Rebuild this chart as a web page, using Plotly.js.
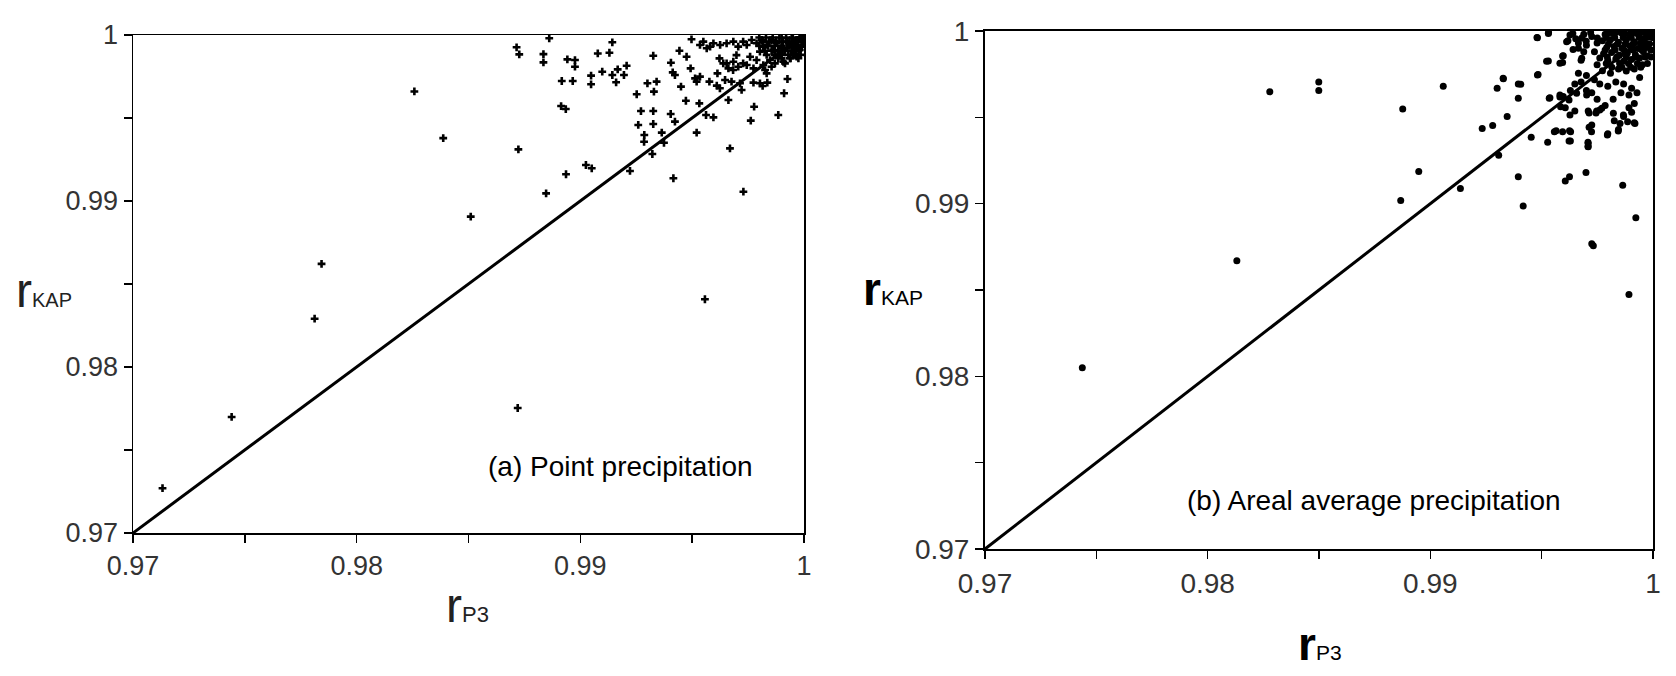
<!DOCTYPE html>
<html>
<head>
<meta charset="utf-8">
<script src="https://cdn.plot.ly/plotly-3.0.1.min.js"></script>
<style>html,body{margin:0;padding:0;background:#fff;}#chart{width:1676px;height:676px;}</style>
</head>
<body>
<div id="chart"></div>
<script>
// ---- Data ----
const tickVals = [0.97, 0.975, 0.98, 0.985, 0.99, 0.995, 1];
const tickText = ['0.97', '', '0.98', '', '0.99', '', '1'];
const diagLine = [0.97, 1];

// (a) Point precipitation: r_P3 (x) vs r_KAP (y)
const pointP3 = [
0.97132,0.97441,0.97812,0.97843,0.98258,0.98387,0.98510,0.98720,0.99557,
0.98723,0.98847,0.98936,0.99025,0.99051,0.99222,0.99416,0.99729,0.99669,0.99762,0.99777,0.99885,0.99911,0.99926,
0.98861,0.98715,0.98727,0.98835,0.98835,0.98942,0.98976,0.98976,0.99078,0.99130,0.99143,0.98917,0.98966,0.99048,
0.99048,0.99098,0.99143,0.99167,0.99160,0.99207,0.99195,0.98914,0.98935,0.99252,0.99300,0.99341,0.99329,0.99271,
0.99326,0.99259,0.99326,0.99286,0.99285,0.99364,0.99374,0.99322,0.99404,0.99423,0.99326,0.99405,0.99413,0.99423,
0.99450,0.99443,0.99475,0.99497,0.99472,0.99493,0.99513,0.99520,0.99535,0.99532,0.99520,0.99562,0.99595,0.99577,
0.99613,0.99622,0.99610,0.99624,0.99647,0.99654,0.99662,0.99676,0.99683,0.99698,0.99714,0.99721,0.99728,0.99774,
0.99803,0.99815,0.99836,0.99826,0.99908,
0.99535,0.99565,0.99595,0.99625,0.99654,0.99684,0.99706,0.99728,0.99744,0.99766,0.99788,0.99811,0.99833,0.99855,
0.99878,0.99900,0.99923,0.99945,0.99967,0.99985,0.99803,0.99833,0.99863,0.99893,0.99923,0.99952,0.99975,0.99848,
0.99870,0.99818,0.99788,0.99759,0.99684,0.99662,0.99639,0.99580,0.99550,0.99818,0.99900,0.99930,0.99960,0.99990,
0.99744,0.99706,0.99774,0.99952,0.99981,0.99967,0.99937,0.99915,0.99885,0.99855,0.99833,0.99990,0.99960,
0.99800,0.99830,0.99860,0.99890,0.99920,0.99950,0.99980,
0.99815,0.99845,0.99875,0.99905,0.99935,0.99965,0.99995,
0.99800,0.99840,0.99870,0.99900,0.99935,0.99965,0.99990,
0.99825,0.99855,0.99885,0.99915,0.99945,0.99975,
0.99870,0.99900,0.99930,0.99960,0.99985,
0.99900,0.99940,0.99975
];
const pointKAP = [
0.97270,0.97699,0.98291,0.98621,0.99660,0.99379,0.98906,0.97753,0.98408,
0.99311,0.99046,0.99161,0.99217,0.99197,0.99181,0.99137,0.99056,0.99317,0.99484,0.99568,0.99518,0.99649,0.99735,
0.99980,0.99926,0.99883,0.99885,0.99835,0.99853,0.99849,0.99809,0.99889,0.99893,0.99956,0.99723,0.99723,0.99755,
0.99703,0.99779,0.99759,0.99793,0.99715,0.99815,0.99759,0.99572,0.99554,0.99643,0.99709,0.99719,0.99659,0.99542,
0.99542,0.99458,0.99464,0.99398,0.99357,0.99412,0.99351,0.99283,0.99524,0.99478,0.99875,0.99833,0.99775,0.99759,
0.99689,0.99905,0.99869,0.99974,0.99604,0.99799,0.99739,0.99719,0.99749,0.99588,0.99412,0.99518,0.99504,0.99719,
0.99769,0.99859,0.99695,0.99679,0.99729,0.99829,0.99608,0.99719,0.99789,0.99879,0.99709,0.99669,0.99829,0.99713,
0.99709,0.99693,0.99713,0.99789,0.99839,
0.99940,0.99920,0.99950,0.99940,0.99950,0.99960,0.99930,0.99960,0.99940,0.99970,0.99950,0.99970,0.99940,0.99970,
0.99950,0.99980,0.99960,0.99980,0.99970,0.99986,0.99900,0.99880,0.99910,0.99890,0.99920,0.99930,0.99940,0.99849,
0.99829,0.99819,0.99849,0.99869,0.99839,0.99799,0.99829,0.99930,0.99960,0.99930,0.99920,0.99950,0.99960,0.99960,
0.99819,0.99809,0.99799,0.99890,0.99910,0.99870,0.99860,0.99829,0.99860,0.99809,0.99769,0.99930,0.99920,
0.99985,0.99985,0.99985,0.99985,0.99985,0.99985,0.99985,
0.99960,0.99960,0.99960,0.99960,0.99960,0.99960,0.99960,
0.99935,0.99935,0.99935,0.99935,0.99935,0.99935,0.99935,
0.99905,0.99905,0.99905,0.99905,0.99905,0.99905,
0.99880,0.99880,0.99880,0.99880,0.99880,
0.99860,0.99860,0.99860
];

// (b) Areal average precipitation: r_P3 (x) vs r_KAP (y)
const arealP3 = [
0.97437,0.98131,0.98279,0.98499,0.98499,0.98876,0.98867,0.98948,0.99058,0.99135,0.99233,0.99280,0.99300,0.99307,
0.99328,0.99345,0.99395,0.99395,0.99395,0.99417,0.99453,0.99479,0.99484,0.99522,0.99531,0.99527,0.99534,0.99565,
0.99582,0.99594,0.99594,0.99606,0.99625,0.99629,0.99606,0.99625,0.99629,0.99649,0.99618,0.99653,0.99689,0.99699,
0.99708,0.99708,0.99725,0.99732,0.99713,0.99725,0.99713,0.99744,0.99761,0.99797,0.99826,0.99845,0.99864,0.99923,
0.99892,0.99916,0.99868,0.99892,0.99916,0.99928,0.99892,0.99856,0.99821,0.99785,0.99749,0.99725,0.99701,0.99677,
0.99665,0.99701,0.99737,0.99761,0.99797,0.99833,0.99868,0.99904,0.99940,0.99773,0.99809,0.99845,0.99880,0.99916,
0.99952,0.99976,0.99964,0.99988,
0.99785,0.99821,0.99857,0.99892,0.99928,0.99964,
0.99773,0.99809,0.99845,0.99880,0.99916,0.99952,
0.99792,0.99825,0.99861,0.99897,0.99933,0.99969,
0.99778,0.99814,0.99849,0.99885,0.99921,0.99957,
0.99797,0.99833,0.99868,0.99904,0.99940,
0.99749,0.99737,0.99725,0.99701,0.99761,0.99749,0.99689,0.99665,0.99641,0.99677,
0.99724,0.99709,0.99709,0.99795,0.99844,0.99852,0.99886,0.99919,0.99822,0.99867,0.99904,0.99627,0.99649,0.99709,
0.99747,0.99770,0.99585,0.99623,0.99597,0.99537,0.99582,0.99657,0.99702,0.99327,0.99406,0.99481,0.99530,0.99582,
0.99597,0.99680,0.99665,0.99612,0.99627,0.99481,0.99530,0.99557,0.99594,0.99630,0.99623,
0.99800,0.99830,0.99870,0.99905,0.99940,0.99975,
0.99790,0.99828,0.99866,0.99902,0.99938,0.99972,0.99995,
0.99800,0.99840,0.99875,0.99910,0.99945,0.99985,
0.99785,0.99830,0.99870,0.99910,0.99950,0.99990,
0.99795,0.99838,0.99880,0.99922,0.99965,0.99992,
0.99790,0.99850,0.99890,0.99930,0.99975,
0.99815,0.99860,0.99900,0.99945,
0.99640,0.99680,0.99720,0.99750,0.99700
];
const arealKAP = [
0.98049,0.98669,0.99648,0.99705,0.99655,0.99548,0.99018,0.99186,0.99680,0.99088,0.99435,0.99453,0.99668,0.99281,
0.99723,0.99505,0.99693,0.99610,0.99156,0.98986,0.99385,0.99963,0.99748,0.99825,0.99990,0.99356,0.99610,0.99423,
0.99618,0.99818,0.99855,0.99555,0.99423,0.99363,0.99131,0.99156,0.99655,0.99693,0.99943,0.99955,0.99880,0.99181,
0.99356,0.99331,0.98768,0.98756,0.99443,0.99455,0.99525,0.99525,0.99543,0.99405,0.99480,0.99430,0.99106,0.98918,
0.98474,0.99468,0.99505,0.99555,0.99580,0.99643,0.99630,0.99643,0.99605,0.99568,0.99605,0.99643,0.99655,0.99705,
0.99755,0.99743,0.99718,0.99693,0.99680,0.99705,0.99693,0.99668,0.99730,0.99770,0.99755,0.99780,0.99768,0.99780,
0.99805,0.99855,0.99930,0.99980,
0.99980,0.99985,0.99990,0.99980,0.99985,0.99990,
0.99943,0.99950,0.99935,0.99948,0.99938,0.99955,
0.99905,0.99910,0.99900,0.99913,0.99898,0.99905,
0.99868,0.99875,0.99860,0.99873,0.99863,0.99880,
0.99830,0.99838,0.99825,0.99835,0.99843,
0.99930,0.99880,0.99968,0.99918,0.99843,0.99805,0.99980,0.99930,0.99893,0.99830,
0.99417,0.99349,0.99330,0.99398,0.99421,0.99465,0.99475,0.99465,0.99523,0.99513,0.99529,0.99514,0.99537,0.99537,
0.99537,0.99552,0.99562,0.99600,0.99620,0.99614,0.99629,0.99639,0.99629,0.99726,0.99691,0.99745,0.99826,0.99813,
0.99857,0.99842,0.99900,0.99938,0.99977,0.99961,0.99986,0.99417,0.99417,0.99417,0.99363,
0.99990,0.99990,0.99990,0.99990,0.99990,0.99990,
0.99962,0.99962,0.99962,0.99962,0.99962,0.99962,0.99962,
0.99925,0.99925,0.99925,0.99925,0.99925,0.99925,
0.99890,0.99890,0.99890,0.99890,0.99890,0.99890,
0.99850,0.99850,0.99850,0.99850,0.99850,0.99850,
0.99812,0.99812,0.99812,0.99812,0.99812,
0.99790,0.99790,0.99790,0.99790,
0.99985,0.99960,0.99990,0.99960,0.99940
];

// ---- Plot ----
const W = 1676, H = 676;
const FONT = 'Liberation Sans, Arial, Helvetica, sans-serif';

const traces = [
  {x: diagLine, y: diagLine, xaxis: 'x', yaxis: 'y', mode: 'lines', line: {color: '#000', width: 3}, hoverinfo: 'skip'},
  {x: pointP3, y: pointKAP, xaxis: 'x', yaxis: 'y', mode: 'markers', type: 'scatter',
   marker: {symbol: 'cross', size: 6.5, color: '#000', line: {width: 0}}},
  {x: diagLine, y: diagLine, xaxis: 'x2', yaxis: 'y2', mode: 'lines', line: {color: '#000', width: 3}, hoverinfo: 'skip'},
  {x: arealP3, y: arealKAP, xaxis: 'x2', yaxis: 'y2', mode: 'markers', type: 'scatter',
   marker: {symbol: 'circle', size: 7, color: '#000', line: {width: 0}}}
];

function axis(extra, lw, fs) {
  return Object.assign({
    range: [0.97, 1], autorange: false,
    tickmode: 'array', tickvals: tickVals, ticktext: tickText,
    ticks: 'outside', ticklen: 8, tickwidth: 1.5, tickcolor: '#000',
    showline: true, linecolor: '#000', linewidth: lw, mirror: true,
    showgrid: false, zeroline: false,
    tickfont: {family: FONT, size: fs, color: '#333'}
  }, extra);
}

const layout = {
  width: W, height: H,
  margin: {l: 0, r: 0, t: 0, b: 0},
  paper_bgcolor: '#fff', plot_bgcolor: '#fff',
  showlegend: false,
  xaxis: axis({domain: [133 / W, 804 / W], anchor: 'y'}, 1.5, 27),
  yaxis: axis({domain: [1 - 533 / H, 1 - 35 / H], anchor: 'x'}, 1.5, 27),
  xaxis2: axis({domain: [985 / W, 1653 / W], anchor: 'y2'}, 2, 28),
  yaxis2: axis({domain: [1 - 549 / H, 1 - 31 / H], anchor: 'x2'}, 2, 28),
  annotations: [
    {xref: 'paper', yref: 'paper', x: 620 / W, y: 1 - 466 / H, xanchor: 'center', yanchor: 'middle', showarrow: false,
     text: '(a) Point precipitation', font: {family: FONT, size: 28, color: '#000'}},
    {xref: 'paper', yref: 'paper', x: 1374 / W, y: 1 - 501 / H, xanchor: 'center', yanchor: 'middle', showarrow: false,
     text: '(b) Areal average precipitation', font: {family: FONT, size: 28, color: '#000'}},
    {xref: 'paper', yref: 'paper', x: 44 / W, y: 1 - 290 / H, xanchor: 'center', yanchor: 'middle', showarrow: false,
     text: '<span style="font-size:48px">r</span><span style="font-size:20px">KAP</span>', font: {family: FONT, size: 20, color: '#222'}},
    {xref: 'paper', yref: 'paper', x: 467 / W, y: 1 - 605 / H, xanchor: 'center', yanchor: 'middle', showarrow: false,
     text: '<span style="font-size:48px">r</span><span style="font-size:22px">P3</span>', font: {family: FONT, size: 22, color: '#222'}},
    {xref: 'paper', yref: 'paper', x: 893 / W, y: 1 - 289 / H, xanchor: 'center', yanchor: 'middle', showarrow: false,
     text: '<span style="font-size:46px"><b>r</b></span><span style="font-size:21px">KAP</span>', font: {family: FONT, size: 21, color: '#000'}},
    {xref: 'paper', yref: 'paper', x: 1320 / W, y: 1 - 644 / H, xanchor: 'center', yanchor: 'middle', showarrow: false,
     text: '<span style="font-size:46px"><b>r</b></span><span style="font-size:21px">P3</span>', font: {family: FONT, size: 21, color: '#000'}}
  ]
};

Plotly.newPlot('chart', traces, layout, {staticPlot: true, displayModeBar: false});
</script>
</body>
</html>
